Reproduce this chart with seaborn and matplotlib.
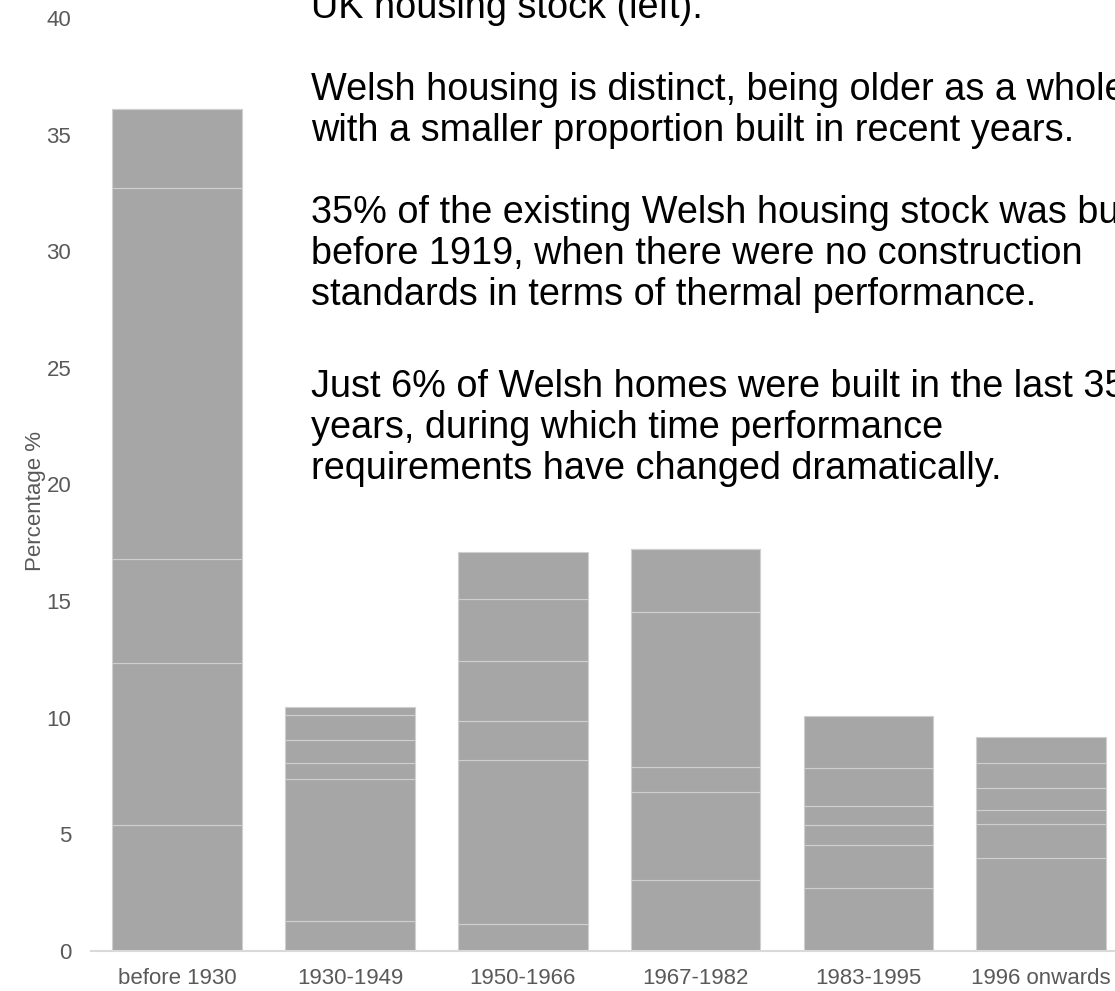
import matplotlib
matplotlib.use("Agg")
import numpy as np
import pandas as pd
import matplotlib.pyplot as plt
import seaborn as sns

# age bands of the housing stock
periods = ["before 1930", "1930-1949", "1950-1966", "1967-1982", "1983-1995", "1996 onwards"]

# each bar is made of several stacked pieces (bottom to top), % of stock
seg_pre1930 = [5.39, 6.97, 4.43, 15.91, 3.38]
seg_1930_49 = [1.29, 6.08, 0.69, 0.97, 1.09, 0.32]
seg_1950_66 = [1.14, 7.05, 1.66, 2.57, 2.65, 2.02]
seg_1967_82 = [3.04, 3.78, 1.05, 6.67, 2.69]
seg_1983_95 = [2.69, 1.84, 0.86, 0.81, 1.63, 2.26]
seg_1996_on = [3.99, 1.44, 0.60, 0.94, 1.07, 1.12]

notes = [
    "UK housing stock (left).",
    "",
    "Welsh housing is distinct, being older as a whole",
    "with a smaller proportion built in recent years.",
    "",
    "35% of the existing Welsh housing stock was built",
    "before 1919, when there were no construction",
    "standards in terms of thermal performance.",
    "",
    "Just 6% of Welsh homes were built in the last 35",
    "years, during which time performance",
    "requirements have changed dramatically.",
]

segments = [seg_pre1930, seg_1930_49, seg_1950_66, seg_1967_82, seg_1983_95, seg_1996_on]
n_layers = max(len(s) for s in segments)
# pad with zeros so every layer has a value for every period
layers = np.array([s + [0.0] * (n_layers - len(s)) for s in segments])

sns.set_theme(style="white")
plt.rcParams["font.family"] = ["Liberation Sans", "DejaVu Sans"]

fig = plt.figure(figsize=(11.15, 9.91), dpi=100)
ax = fig.add_axes([0.0813, 0.0404, 0.930, 0.9414])

bottoms = np.zeros(len(periods))
for k in range(n_layers):
    sns.barplot(x=periods, y=layers[:, k], bottom=bottoms, order=periods,
                color="#a6a6a6", saturation=1, width=0.75,
                edgecolor="#cfcfcf", linewidth=0.8, ax=ax)
    bottoms = bottoms + layers[:, k]

ax.set_xlim(-0.5, 5.5)
ax.set_ylim(0, 40)
ax.set_yticks(np.arange(0, 41, 5))
ax.tick_params(axis="both", length=0, labelsize=16, colors="#595959")
ax.tick_params(axis="y", pad=14)
ax.tick_params(axis="x", pad=12)
ax.set_ylabel("Percentage %", fontsize=16, color="#595959")
ax.yaxis.set_label_coords(-0.0435, 0.482)

sns.despine(ax=ax, left=True)
ax.spines["bottom"].set_color("#d9d9d9")
ax.spines["bottom"].set_linewidth(1.5)

# commentary block on top of the chart (last paragraph sits a bit lower)
for i, line in enumerate(notes):
    if line:
        y_px = 100 + (i - 2) * 41 + (10 if i >= 9 else 0)
        fig.text(311 / 1115, 1 - y_px / 991, line, fontsize=27.3,
                 ha="left", va="baseline", color="black")

fig.savefig("out.png", dpi=100)
